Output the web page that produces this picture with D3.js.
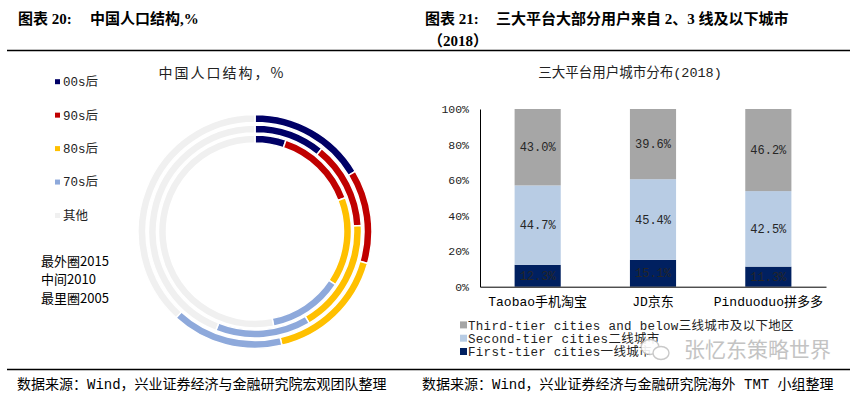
<!DOCTYPE html>
<html>
<head>
<meta charset="utf-8">
<script src="https://cdn.jsdelivr.net/npm/d3@7"></script>
<style>
  body { margin: 0; background: #fff; }
  text { font-family: "Liberation Mono", "Noto Sans CJK SC", sans-serif; fill: #000; }
  .cjk { font-family: "Noto Sans CJK SC", sans-serif; }
  .hd { font-family: "Liberation Serif", "Noto Sans CJK SC", serif; font-weight: bold; font-size: 15px; }
</style>
</head>
<body>
<div id="chart"></div>
<script>
// left: population structure donut, rings 2005 (inner) / 2010 / 2015 (outer)
var groups = ["00s后", "90s后", "80s后", "70s后", "其他"];
var groupColors = ["#000066", "#C00000", "#FFC000", "#8EA9DB", "#F0F0F0"];
var years = ["2005", "2010", "2015"];
var share2005 = [5.2, 14.1, 15.0, 12.6, 53.1];
var share2010 = [10.8, 13.3, 17.4, 14.5, 44.0];
var share2015 = [16.4, 13.0, 16.9, 15.5, 38.2];
var ringNotes = ["最外圈2015", "中间2010", "最里圈2005"];

// right: stacked bars of user city tiers
var platforms = ["Taobao手机淘宝", "JD京东", "Pinduoduo拼多多"];
var tiers = ["First-tier cities一线城市", "Second-tier cities二线城市", "Third-tier cities and below三线城市及以下地区"];
var tierColors = ["#002060", "#B8CCE4", "#A6A6A6"];
var firstTier = [12.3, 15.1, 11.3];
var secondTier = [44.7, 45.4, 42.5];
var thirdTier = [43.0, 39.6, 46.2];
var yTicks = [0, 20, 40, 60, 80, 100];

var full_width = 856, full_height = 397;

var svg = d3.select("#chart")
    .append("svg")
    .attr("width", full_width)
    .attr("height", full_height);

// headers and rules
svg.append("text").attr("class", "hd").attr("x", 18).attr("y", 24).text("图表 20:");
svg.append("text").attr("class", "hd").attr("x", 90).attr("y", 24).text("中国人口结构,%");
svg.append("text").attr("class", "hd").attr("x", 425).attr("y", 24).text("图表 21:");
svg.append("text").attr("class", "hd").attr("x", 496).attr("y", 24).text("三大平台大部分用户来自 2、3 线及以下城市");
svg.append("text").attr("class", "hd").attr("x", 428).attr("y", 46).text("（2018）");

svg.append("line").attr("x1", 7).attr("x2", 850).attr("y1", 50.5).attr("y2", 50.5)
    .attr("stroke", "#000").attr("stroke-width", 1.3);
svg.append("line").attr("x1", 7).attr("x2", 850).attr("y1", 369.5).attr("y2", 369.5)
    .attr("stroke", "#000").attr("stroke-width", 1.3);

svg.append("text").attr("x", 17).attr("y", 389).style("font-size", "14px")
    .text("数据来源：Wind，兴业证券经济与金融研究院宏观团队整理");
svg.append("text").attr("x", 422).attr("y", 389).style("font-size", "14px")
    .text("数据来源：Wind，兴业证券经济与金融研究院海外 TMT 小组整理");

// ---------- donut ----------
var cx = 255, cy = 231.5;
var rings = [
    { year: "2005", values: share2005, inner: 88.5, outer: 96.5 },
    { year: "2010", values: share2010, inner: 98.5, outer: 106.5 },
    { year: "2015", values: share2015, inner: 109, outer: 117 }
];

var pie = d3.pie().sort(null).value(function(d) { return d; });

var donut = svg.append("g").attr("transform", "translate(" + cx + "," + cy + ")");

rings.forEach(function(ring) {
    var arc = d3.arc().innerRadius(ring.inner).outerRadius(ring.outer);
    donut.append("g").selectAll("path")
        .data(pie(ring.values))
        .enter()
        .append("path")
        .attr("d", arc)
        .attr("fill", function(d, i) { return groupColors[i]; })
        .attr("stroke", "#fff")
        .attr("stroke-width", 1.5);
});

svg.append("text")
    .attr("x", 222).attr("y", 78)
    .attr("text-anchor", "middle")
    .attr("class", "cjk")
    .style("font-size", "14px")
    .style("letter-spacing", "2px")
    .style("fill", "#222")
    .text("中国人口结构，%");

var legendY = d3.scalePoint().domain(groups).range([81.7, 215.5]);
var leg = svg.append("g").selectAll("g")
    .data(groups)
    .enter()
    .append("g")
    .attr("transform", function(d) { return "translate(55," + legendY(d) + ")"; });
leg.append("rect").attr("x", 0).attr("y", -2.5).attr("width", 5).attr("height", 5)
    .attr("fill", function(d, i) { return groupColors[i]; });
leg.append("text").attr("x", 8).attr("dy", "0.35em")
    .style("font-size", "12.5px").style("fill", "#222")
    .text(function(d) { return d; });

svg.append("g").selectAll("text")
    .data(ringNotes)
    .enter()
    .append("text")
    .attr("class", "cjk")
    .attr("x", 41)
    .attr("y", function(d, i) { return 261 + i * 18.5; })
    .attr("dy", "0.35em")
    .style("font-size", "13px")
    .text(function(d) { return d; });

// ---------- stacked bars ----------
var plot = { left: 480, right: 826, top: 109, bottom: 286.7 };

var x = d3.scaleBand()
    .domain(platforms)
    .range([plot.left, plot.right])
    .paddingInner(0.6)
    .paddingOuter(0.3);

var y = d3.scaleLinear()
    .domain([0, 100])
    .range([plot.bottom, plot.top]);

var rows = platforms.map(function(p, i) {
    return { platform: p, t1: firstTier[i], t2: secondTier[i], t3: thirdTier[i] };
});
var series = d3.stack().keys(["t1", "t2", "t3"])(rows);

svg.append("text")
    .attr("x", 630).attr("y", 77)
    .attr("text-anchor", "middle")
    .style("font-size", "13.5px")
    .style("fill", "#222")
    .text("三大平台用户城市分布(2018)");

var layers = svg.append("g").selectAll("g")
    .data(series)
    .enter()
    .append("g")
    .attr("fill", function(d, i) { return tierColors[i]; });

layers.selectAll("rect")
    .data(function(d) { return d; })
    .enter()
    .append("rect")
    .attr("x", function(d) { return x(d.data.platform); })
    .attr("y", function(d) { return y(Math.min(d[1], 100)); })
    .attr("width", x.bandwidth())
    .attr("height", function(d) { return y(d[0]) - y(Math.min(d[1], 100)); });

layers.selectAll("text")
    .data(function(d) { return d; })
    .enter()
    .append("text")
    .attr("x", function(d) { return x(d.data.platform) + x.bandwidth() / 2; })
    .attr("y", function(d) { return y((d[0] + Math.min(d[1], 100)) / 2); })
    .attr("dy", "0.35em")
    .attr("text-anchor", "middle")
    .style("font-size", "12px")
    .style("fill", "#262626")
    .text(function(d) { return (d[1] - d[0]).toFixed(1) + "%"; });

// Y Axis
var yAxis = svg.append("g")
    .attr("transform", "translate(" + plot.left + ",0)")
    .call(d3.axisLeft(y).tickValues(yTicks).tickSize(0).tickPadding(11)
        .tickFormat(function(d) { return d + "%"; }));
yAxis.select(".domain").attr("stroke", "#000");
yAxis.selectAll("text").style("font-size", "11.5px").style("fill", "#222")
    .style("font-family", "'Liberation Mono', monospace");

// X Axis
var xAxis = svg.append("g")
    .attr("transform", "translate(0," + plot.bottom + ")")
    .call(d3.axisBottom(x).tickSize(0).tickPadding(10).tickSizeOuter(0));
xAxis.select(".domain").attr("stroke", "#000");
xAxis.selectAll("text").style("font-size", "13px").style("fill", "#000")
    .style("font-family", "'Liberation Mono', 'Noto Sans CJK SC', monospace");

// legend, top row is the top stack
var tierLegendY = [352, 338.7, 325.4];
var tleg = svg.append("g").selectAll("g")
    .data(tiers)
    .enter()
    .append("g")
    .attr("transform", function(d, i) { return "translate(460," + tierLegendY[i] + ")"; });
tleg.append("rect").attr("x", 0).attr("y", -4).attr("width", 7).attr("height", 7)
    .attr("fill", function(d, i) { return tierColors[i]; });
tleg.append("text").attr("x", 8).attr("dy", "0.35em")
    .style("font-size", "12.5px").style("fill", "#222")
    .style("letter-spacing", "0.3px")
    .text(function(d) { return d; });

// watermark
var wm = svg.append("g").attr("opacity", 0.9);
wm.append("ellipse").attr("cx", 650).attr("cy", 347).attr("rx", 9).attr("ry", 7.5)
    .attr("fill", "#fff").attr("stroke", "#c4c4c4").attr("stroke-width", 1.4);
wm.append("ellipse").attr("cx", 661).attr("cy", 353).attr("rx", 8).attr("ry", 6.5)
    .attr("fill", "#fff").attr("stroke", "#c4c4c4").attr("stroke-width", 1.4);
wm.append("text").attr("x", 684).attr("y", 357)
    .attr("class", "cjk")
    .style("font-size", "21px").style("fill", "#bdbdbd")
    .text("张忆东策略世界");
</script>
</body>
</html>
